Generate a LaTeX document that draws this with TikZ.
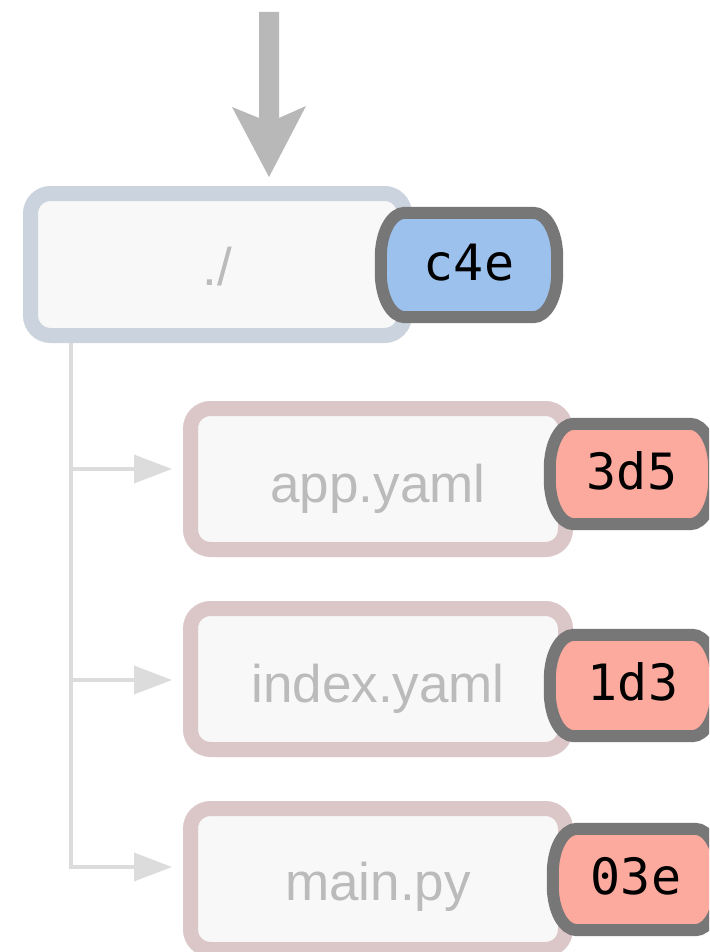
\documentclass[tikz,border=0pt]{standalone}
\usepackage{fontspec}
\setmainfont{Liberation Sans}
\newfontfamily\badgefont{DejaVu Sans Mono}
\usetikzlibrary{arrows.meta,calc,backgrounds}
\definecolor{arrowgray}{HTML}{B8B8B8}
\definecolor{rootborder}{HTML}{CBD3DE}
\definecolor{fileborder}{HTML}{DCC7C8}
\definecolor{boxfill}{HTML}{F8F8F8}
\definecolor{labelgray}{HTML}{BBBBBB}
\definecolor{conngray}{HTML}{DCDCDC}
\definecolor{badgeborder}{HTML}{777777}
\definecolor{treeblue}{HTML}{9BC1EC}
\definecolor{blobsalmon}{HTML}{FCA99E}
\tikzset{
  rootbox/.style={shape=rectangle, draw=rootborder, fill=boxfill, line width=15pt,
    rounded corners=20pt, minimum width=374pt, minimum height=142pt, inner sep=0pt},
  filebox/.style={rootbox, draw=fileborder, minimum width=375pt, minimum height=141pt},
  nametext/.style={text=labelgray, font=\fontsize{53}{60}\selectfont, inner sep=0pt, anchor=base},
  badgeline/.style={draw=badgeborder, line width=12pt},
  badgetext/.style={text=black, font=\badgefont\fontsize{50}{58}\selectfont, inner sep=0pt, anchor=base},
  conn/.style={draw=conngray, line width=3.5pt, -{Triangle[length=38pt,width=28pt]}},
}
\newcommand\mybadge[6]{%
  \node[shape=rectangle, inner sep=0pt, minimum width=#3pt, minimum height=#4pt] (#1) at (#2) {};
  \draw[badgeline, fill=#5]
    ($(#1.north west)+(24pt,0pt)$) -- ($(#1.north east)+(-24pt,0pt)$)
    arc[start angle=90,end angle=0,x radius=24pt,y radius=44pt]
    -- ($(#1.south east)+(0pt,44pt)$)
    arc[start angle=0,end angle=-90,x radius=24pt,y radius=44pt]
    -- ($(#1.south west)+(24pt,0pt)$)
    arc[start angle=270,end angle=180,x radius=24pt,y radius=44pt]
    -- ($(#1.north west)+(0pt,-44pt)$)
    arc[start angle=180,end angle=90,x radius=24pt,y radius=44pt] -- cycle;
  \node[badgetext] (#1t) at ($(#1.center)+(0,15)$) {#6};
}
\begin{document}
\begin{tikzpicture}[x=1pt,y=-1pt]
\useasboundingbox (0,0) rectangle (709,952);
\begin{scope}[on background layer]
\fill[white] (0,0) rectangle (709,952);
\end{scope}
\clip (0,0) rectangle (709,952);

% incoming arrow
\coordinate (src) at (269,12);
\fill[arrowgray] ($(src)+(-10,0)$) -- ($(src)+(10,0)$) -- (279,118) -- (306,106)
  -- (269,177) -- (232,107) -- (259,118) -- cycle;

% root tree
\node[rootbox] (root) at (217.5,264.5) {};
\node[nametext] (rootlabel) at ($(root.center)+(0,20.5)$) {./};
\mybadge{b0}{469,265}{176}{104}{treeblue}{c4e}

% files
\node[filebox] (f1) at (378,479) {};
\node[nametext] (f1label) at ($(f1.center)+(0,23)$) {app.yaml};
\mybadge{b1}{632,474}{164}{100}{blobsalmon}{3d5}

\node[filebox] (f2) at (378,679) {};
\node[nametext] (f2label) at ($(f2.center)+(0,23)$) {index.yaml};
\mybadge{b2}{633,685.5}{166}{101}{blobsalmon}{1d3}

\node[filebox] (f3) at (378,879) {};
\node[nametext] (f3label) at ($(f3.center)+(0,21)$) {main.py};
\mybadge{b3}{636,879.5}{166}{101}{blobsalmon}{03e}

% connectors
\begin{scope}[on background layer]
\coordinate (trunk) at ($(root.south west)+(48,0)$);
\coordinate (a1) at ($(f1.west)+(-11,-10)$);
\coordinate (a2) at ($(f2.west)+(-11,1)$);
\coordinate (a3) at ($(f3.west)+(-11,-12)$);
\draw[conn] (trunk) |- (a1);
\draw[conn] (trunk) |- (a2);
\draw[conn] (trunk) |- (a3);
\end{scope}
\end{tikzpicture}
\end{document}
